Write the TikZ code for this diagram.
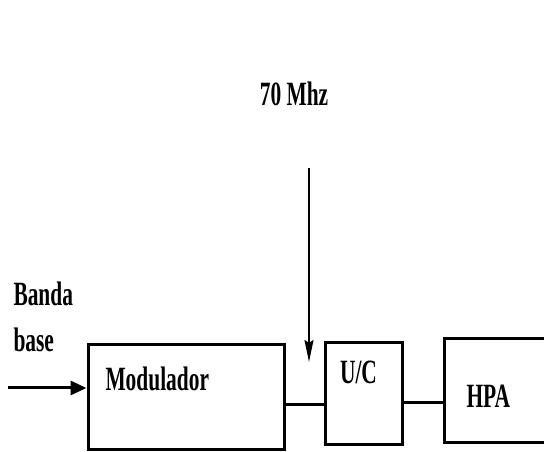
\documentclass[tikz,border=0pt]{standalone}
\usepackage{fontspec}
\newfontfamily\diafont{Liberation Serif Bold}[FakeStretch=0.63]
\usetikzlibrary{arrows.meta,positioning}

\begin{document}
\begin{tikzpicture}[
			x=1pt, y=1pt,
			line width=3pt,
			block/.style={rectangle, draw, line width=3pt, inner sep=0pt},
			lbl/.style={inner sep=0pt, font=\diafont\fontsize{34}{37}\selectfont}
		]
		\useasboundingbox (0,0) rectangle (544,452);
		\clip (0,0) rectangle (544,452);

		\node[block, minimum width=196pt, minimum height=105pt] (Mod) at (186,54.5) {};
		\node[block, minimum width=77pt, minimum height=102pt] (UC) at (363.5,58) {};
		\node[block, minimum width=150pt, minimum height=104pt, anchor=west] (HPA) at (443,61) {};

		\node[lbl, anchor=west] (ModTxt) at (104,73) {Modulador};
		\node[lbl] (UCTxt) at (358.5,80) {U/C};
		\node[lbl, anchor=west] (HPATxt) at (465,56) {HPA};
		\node[lbl] (Freq) at (294,358) {70 Mhz};
		\node[lbl, anchor=west] (Banda) at (12,158) {Banda};
		\node[lbl, anchor=west] (Base) at (12,112) {base};

		\coordinate (In) at (8,64);
		\coordinate (Lo) at (309,284);
		\coordinate (LoTip) at (309,90);

		\draw[-{Triangle[length=16pt,width=14pt]}] (In) -- (In -| Mod.west);
		\draw[line width=2pt, -{Stealth[length=22pt,width=9pt,inset=3pt]}] (Lo) -- (LoTip);

		\draw ([yshift=-7.5pt]Mod.east) -- ([yshift=-7.5pt]Mod.east -| UC.west);
		\draw ([yshift=-9pt]UC.east) -- ([yshift=-9pt]UC.east -| HPA.west);

	\end{tikzpicture}
\end{document}
